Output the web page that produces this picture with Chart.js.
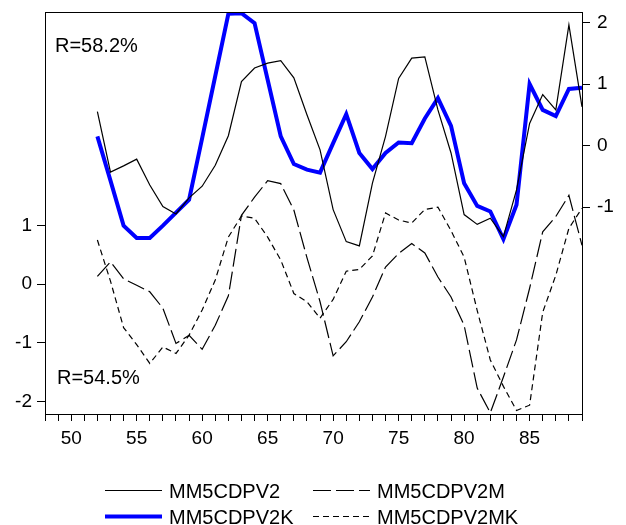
<!DOCTYPE html>
<html><head><meta charset="utf-8">
<script src="https://cdn.jsdelivr.net/npm/chart.js@4/dist/chart.umd.min.js"></script>
<style>html,body{margin:0;padding:0;background:#fff}#wrap{width:626px;height:525px;position:relative}</style>
</head><body><div id="wrap"><canvas id="c" width="626" height="525"></canvas></div>
<script>
// ---- data ----
const years = [52,53,54,55,56,57,58,59,60,61,62,63,64,65,66,67,68,69,70,71,72,73,74,75,76,77,78,79,80,81,82,83,84,85,86,87,88,89];
// right axis series
const mm5cdpv2 = [0.55,-0.43,-0.33,-0.22,-0.64,-0.99,-1.11,-0.85,-0.66,-0.32,0.16,1.04,1.26,1.34,1.38,1.10,0.50,-0.07,-1.04,-1.56,-1.63,-0.61,0.15,1.09,1.42,1.44,0.58,-0.12,-1.12,-1.28,-1.18,-1.48,-0.72,0.36,0.83,0.58,1.96,0.63];
const mm5cdpv2k = [0.15,-0.57,-1.30,-1.50,-1.50,-1.30,-1.09,-0.88,0.12,1.13,2.14,2.15,1.99,1.07,0.15,-0.30,-0.39,-0.44,0.04,0.51,-0.12,-0.38,-0.12,0.05,0.04,0.44,0.77,0.32,-0.61,-0.98,-1.07,-1.52,-0.96,1.00,0.58,0.48,0.92,0.94];
// left axis series
const mm5cdpv2m = [0.13,0.38,0.09,-0.02,-0.13,-0.41,-1.01,-0.87,-1.11,-0.70,-0.20,1.17,1.48,1.76,1.71,1.26,0.45,-0.30,-1.22,-0.98,-0.64,-0.22,0.29,0.52,0.69,0.53,0.12,-0.22,-0.70,-1.77,-2.19,-1.58,-0.95,-0.07,0.89,1.15,1.51,0.66];
const mm5cdpv2mk = [0.75,0.05,-0.74,-1.03,-1.35,-1.07,-1.18,-0.87,-0.44,0.07,0.80,1.16,1.12,0.80,0.41,-0.16,-0.30,-0.58,-0.26,0.22,0.25,0.48,1.21,1.09,1.04,1.27,1.31,0.91,0.46,-0.45,-1.29,-1.74,-2.15,-2.06,-0.48,0.15,0.95,1.29];
const leftTicks = [-2,-1,0,1];
const rightTicks = [-1,0,1,2];
const seriesNames = ['MM5CDPV2','MM5CDPV2M','MM5CDPV2K','MM5CDPV2MK'];
const notes = ['R=58.2%','R=54.5%'];

const pts = arr => arr.map((v,i)=>({x:years[i], y:v}));
const FONT = '"Liberation Sans", Arial, sans-serif';

const datasets = [
  {label:seriesNames[0], data:pts(mm5cdpv2), yAxisID:'y1', borderColor:'#000', borderWidth:1.2, borderDash:[]},
  {label:seriesNames[1], data:pts(mm5cdpv2m), yAxisID:'y', borderColor:'#000', borderWidth:1.2, borderDash:[18,5]},
  {label:seriesNames[2], data:pts(mm5cdpv2k), yAxisID:'y1', borderColor:'#0000ff', borderWidth:4, borderDash:[]},
  {label:seriesNames[3], data:pts(mm5cdpv2mk), yAxisID:'y', borderColor:'#000', borderWidth:1.2, borderDash:[6,4]}
].map(d=>Object.assign(d,{pointRadius:0, tension:0, fill:false}));

const extras = {
  id:'extras',
  afterDraw(chart){
    const ctx = chart.ctx, ca = chart.chartArea;
    ctx.save();
    ctx.strokeStyle = '#000'; ctx.lineWidth = 1; ctx.setLineDash([]);
    ctx.strokeRect(Math.round(ca.left)+0.5, Math.round(ca.top)+0.5, Math.round(ca.right-ca.left), Math.round(ca.bottom-ca.top));
    ctx.fillStyle = '#000';
    ctx.font = '20px ' + FONT;
    ctx.textBaseline = 'alphabetic'; ctx.textAlign = 'left';
    ctx.fillText(notes[0], 55, 51.5);
    ctx.fillText(notes[1], 57, 383.5);
    // legend
    const items = [
      {ds:datasets[0], x:105, y:490.5},
      {ds:datasets[1], x:313, y:490.5},
      {ds:datasets[2], x:105, y:516.5},
      {ds:datasets[3], x:313, y:516.5}
    ];
    items.forEach(it=>{
      ctx.beginPath();
      ctx.strokeStyle = it.ds.borderColor; ctx.lineWidth = it.ds.borderWidth;
      ctx.setLineDash(it.ds.borderDash);
      ctx.moveTo(it.x, it.y); ctx.lineTo(it.x+57, it.y); ctx.stroke();
      ctx.setLineDash([]);
      ctx.fillText(it.ds.label, it.x+64, it.y+7.5);
    });
    ctx.restore();
  }
};

const tickFont = {family: FONT, size: 19};
const noPad = s => { s.paddingTop = 0; s.paddingBottom = 0; s.paddingLeft = 0; s.paddingRight = 0; };
new Chart(document.getElementById('c'), {
  type:'line',
  data:{datasets},
  options:{
    responsive:false, animation:false,
    layout:{padding:{top:12, left:0, right:0, bottom:0}},
    plugins:{legend:{display:false}, tooltip:{enabled:false}},
    scales:{
      x:{type:'linear', min:48, max:89,
        border:{display:false},
        grid:{drawOnChartArea:false, drawTicks:true, tickLength:7, color:'#000'},
        ticks:{stepSize:1, autoSkip:false, maxRotation:0, color:'#000', font:tickFont, padding:6,
          callback:v=> (v%5===0 ? String(v) : '')},
        afterFit(s){ s.height = 111; noPad(s); }
      },
      y:{position:'left', min:-2.21, max:4.63,
        border:{display:false},
        grid:{drawOnChartArea:false, drawTicks:true, tickLength:8, color:'#000'},
        ticks:{color:'#000', font:tickFont, padding:5},
        afterBuildTicks(s){ s.ticks = leftTicks.map(v=>({value:v})); },
        afterFit(s){ s.width = 45; noPad(s); }
      },
      y1:{position:'right', min:-4.36, max:2.17,
        border:{display:false},
        grid:{drawOnChartArea:false, drawTicks:true, tickLength:8, color:'#000'},
        ticks:{color:'#000', font:tickFont, padding:7},
        afterBuildTicks(s){ s.ticks = rightTicks.map(v=>({value:v})); },
        afterFit(s){ s.width = 44; noPad(s); }
      }
    }
  },
  plugins:[extras]
});
</script></body></html>
